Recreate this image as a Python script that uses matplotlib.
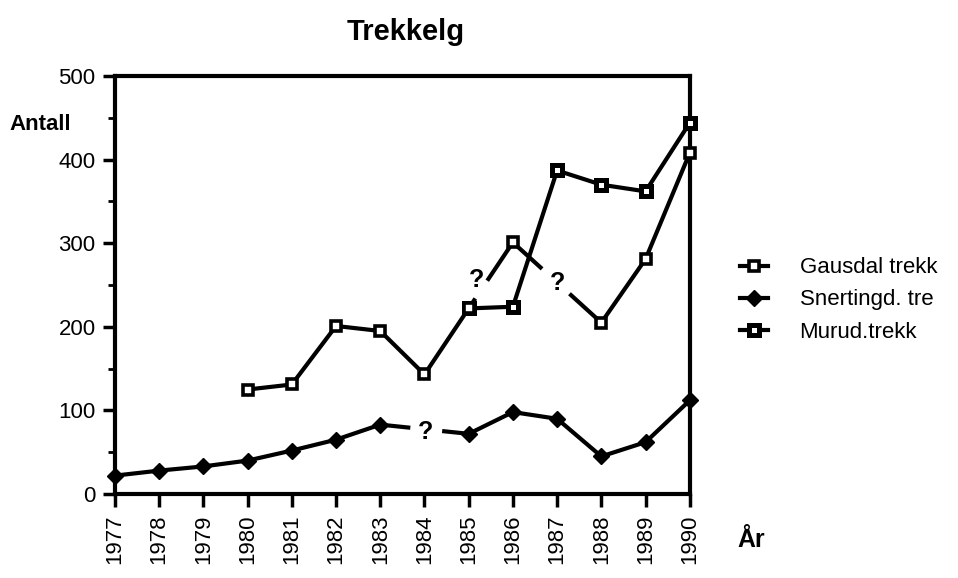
import numpy as np
import matplotlib
matplotlib.use("Agg")
import matplotlib.pyplot as plt
from matplotlib.ticker import MultipleLocator
from matplotlib.lines import Line2D

plt.rcParams['font.family'] = ['Liberation Sans', 'DejaVu Sans']

years = list(range(1977, 1991))

gausdal_years = [1980, 1981, 1982, 1983, 1984, 1985, 1986, 1988, 1989, 1990]
gausdal_vals = [125, 131, 201, 195, 143, 222, 301, 205, 281, 408]

snerting_years = [1977, 1978, 1979, 1980, 1981, 1982, 1983, 1985, 1986, 1987, 1988, 1989, 1990]
snerting_vals = [22, 28, 33, 40, 52, 65, 83, 72, 98, 90, 45, 62, 112]

murud_years = [1985, 1986, 1987, 1988, 1989, 1990]
murud_vals = [222, 224, 387, 370, 362, 444]

labels = ["Gausdal trekk", "Snertingd. tre", "Murud.trekk"]

fig = plt.figure(figsize=(9.58, 5.78), dpi=100)
ax = fig.add_axes([0.120, 0.1453, 0.600, 0.7232])

lw = 3.0
black = "black"

def seg_with_gap(x0, y0, x1, y1, t1, t2):
    xa = x0 + (x1 - x0) * t1
    ya = y0 + (y1 - y0) * t1
    xb = x0 + (x1 - x0) * t2
    yb = y0 + (y1 - y0) * t2
    ax.plot([x0, xa], [y0, ya], color=black, lw=lw, solid_capstyle='butt', zorder=2)
    ax.plot([xb, x1], [yb, y1], color=black, lw=lw, solid_capstyle='butt', zorder=2)

# Gausdal: solid 1980-1985, gap 1985-1986, gap 1986-1988, solid 1988-1990
g = dict(zip(gausdal_years, gausdal_vals))
ax.plot(gausdal_years[:6], gausdal_vals[:6], color=black, lw=lw, zorder=2)
ax.plot(gausdal_years[7:], gausdal_vals[7:], color=black, lw=lw, zorder=2)
seg_with_gap(1985, g[1985], 1986, g[1986], 0.15, 0.42)
seg_with_gap(1986, g[1986], 1988, g[1988], 0.33, 0.64)
ax.plot(gausdal_years, gausdal_vals, ls='none', marker='s', ms=7, mfc='white',
        mec=black, mew=2.6, zorder=4)

# Snertingd
s = dict(zip(snerting_years, snerting_vals))
ax.plot(snerting_years[:7], snerting_vals[:7], color=black, lw=lw, zorder=2)
ax.plot(snerting_years[7:], snerting_vals[7:], color=black, lw=lw, zorder=2)
seg_with_gap(1983, s[1983], 1985, s[1985], 0.34, 0.70)
ax.plot(snerting_years, snerting_vals, ls='none', marker='D', ms=8.5, mfc=black,
        mec=black, zorder=4)

# Murud
ax.plot(murud_years, murud_vals, color=black, lw=lw, marker='s', ms=7.5, mfc='white',
        mec=black, mew=3.6, zorder=3)

# question marks
qkw = dict(fontsize=18, fontweight='bold', ha='center', va='center', zorder=5)
ax.text(1985.18, 256, "?", **qkw)
ax.text(1987.02, 252, "?", **qkw)
ax.text(1984.02, 74, "?", **qkw)

ax.set_xlim(1977, 1990)
ax.set_ylim(0, 500)
ax.set_xticks(years)
ax.set_xticklabels([str(y) for y in years], rotation=90, fontsize=16)
ax.yaxis.set_major_locator(MultipleLocator(100))
ax.yaxis.set_minor_locator(MultipleLocator(50))
ax.tick_params(axis='y', which='major', direction='out', length=9, width=2.5, labelsize=16, pad=5)
ax.tick_params(axis='y', which='minor', direction='out', length=5, width=2)
ax.tick_params(axis='x', which='major', direction='out', length=9, width=2.5, pad=6)
for sp in ax.spines.values():
    sp.set_linewidth(3)
for artist in ax.lines:
    artist.set_clip_on(False)

fig.text(0.423, 0.945, "Trekkelg", fontsize=21, fontweight='bold', ha='center', va='center')
fig.text(0.010, 0.785, "Antall", fontsize=16, fontweight='bold', ha='left', va='center')
fig.text(0.770, 0.065, "År", fontsize=18, fontweight='bold', ha='left', va='center')

handles = [
    Line2D([], [], color=black, lw=lw, marker='s', ms=6.5, mfc='white', mec=black, mew=2.6),
    Line2D([], [], color=black, lw=lw, marker='D', ms=8.5, mfc=black, mec=black),
    Line2D([], [], color=black, lw=lw, marker='s', ms=7, mfc='white', mec=black, mew=3.6),
]
fig.legend(handles, labels, loc='center left', bbox_to_anchor=(0.772, 0.481),
           frameon=False, fontsize=16, handlelength=1.3, handletextpad=1.4,
           labelspacing=0.5, borderaxespad=0, borderpad=0)

fig.savefig("out.png", dpi=100)
